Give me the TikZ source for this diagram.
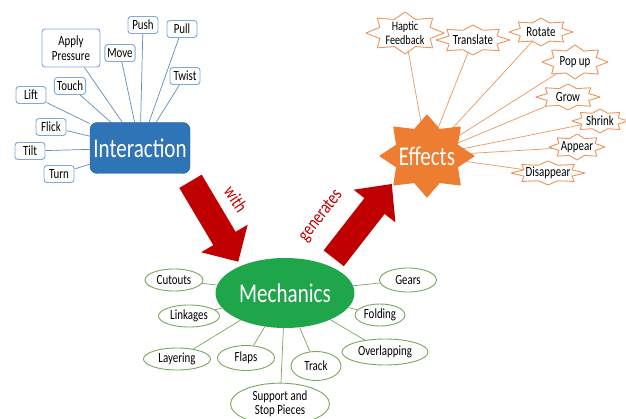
\documentclass[tikz,border=0pt]{standalone}
\usepackage{fontspec}
\setmainfont{Carlito}[FakeStretch=0.78]
\usetikzlibrary{shapes.geometric,calc}

\definecolor{interblue}{HTML}{2E74B6}
\definecolor{interedge}{HTML}{255F98}
\definecolor{interline}{HTML}{5F8CBC}
\definecolor{leafblue}{HTML}{7FA9D6}
\definecolor{efforange}{HTML}{ED7D31}
\definecolor{effline}{HTML}{E9965E}
\definecolor{mechgreen}{HTML}{1FA64A}
\definecolor{mechline}{HTML}{7BA65C}
\definecolor{arrowred}{HTML}{C00000}

\pgfdeclarelayer{back}
\pgfdeclarelayer{mid}
\pgfsetlayers{back,mid,main}

\newcommand{\leaffont}{\fontsize{14}{14.5}\selectfont}
\newcommand{\hubfont}{\fontsize{27}{29}\selectfont}

\tikzset{
  hub/.style={text=white, font=\hubfont},
  actleaf/.style={draw=leafblue, fill=white, line width=0.9pt, rounded corners=3pt,
    minimum width=30pt, minimum height=17pt, inner sep=2.5pt, font=\leaffont, align=center},
  mechleaf/.style={ellipse, draw=mechline, fill=white, line width=0.9pt,
    minimum height=22pt, inner sep=1.5pt, font=\leaffont, align=center},
  effleaf/.style={inner sep=1pt, font=\leaffont, align=center},
  effstarline/.style={draw=effline, fill=white, line width=0.9pt, line join=round},
  effhubstar/.style={fill=efforange, draw=efforange, line width=1pt, line join=round},
  actlink/.style={draw=interline, line width=0.7pt},
  efflink/.style={draw=effline, line width=0.7pt},
  mechlink/.style={draw=mechline, line width=0.7pt},
  bigarrow/.style={fill=arrowred, draw=none},
  arrowtext/.style={text=arrowred, font=\fontsize{19}{20}\selectfont}
}

% eight point star round a node: style, node, x radius, y radius
\newcommand{\effstar}[4][effstarline]{%
  \pgfmathsetmacro{\starrx}{0.7*#3}%
  \pgfmathsetmacro{\starry}{0.7*#4}%
  \draw[#1] ($(#2)+(#3,0)$)
    \foreach \ang in {0,45,...,315}{
      -- ($(#2)+({#3*cos(\ang)},{#4*sin(\ang)})$)
      -- ($(#2)+({\starrx*cos(\ang+22.5)},{\starry*sin(\ang+22.5)})$)} -- cycle;
}

\begin{document}
\begin{tikzpicture}[x=1pt,y=-1pt]
    \useasboundingbox (0,0) rectangle (626,419);

    % Interaction and what you do
    \node[hub, fill=interblue, draw=interedge, rounded corners=7pt,
      minimum width=100pt, minimum height=51pt] (interaction) at (140,148) {Interaction};

    \node[actleaf] (push) at (143,25) {Push};
    \node[actleaf] (pull) at (182,29) {Pull};
    \node[actleaf, minimum width=58pt, minimum height=38pt] (pressure) at (71,48) {Apply\\Pressure};
    \node[actleaf] (move) at (120,53) {Move};
    \node[actleaf] (twist) at (185,76) {Twist};
    \node[actleaf] (touch) at (70,86) {Touch};
    \node[actleaf] (lift) at (31,95) {Lift};
    \node[actleaf] (flick) at (51,127) {Flick};
    \node[actleaf] (tilt) at (30,151) {Tilt};
    \node[actleaf] (turn) at (59,174) {Turn};

    % Effects and what they do
    \node[hub, circle, minimum size=62pt, inner sep=0pt] (effects) at (427,156) {Effects};

    \node[effleaf, font=\fontsize{13}{13.5}\selectfont] (haptic) at (405,33) {Haptic\\Feedback};
    \node[effleaf] (translate) at (473,40) {Translate};
    \node[effleaf] (rotate) at (541,32) {Rotate};
    \node[effleaf] (popup) at (575,62) {Pop up};
    \node[effleaf] (grow) at (568,97) {Grow};
    \node[effleaf] (shrink) at (600,121) {Shrink};
    \node[effleaf] (appear) at (577,147) {Appear};
    \node[effleaf] (disappear) at (548,173) {Disappear};

    % Mechanics and the parts
    \node[hub, ellipse, fill=mechgreen, minimum width=111pt, minimum height=70pt] (mechanics) at (285,293) {Mechanics};

    \node[mechleaf, minimum width=58pt] (cutouts) at (174,280) {Cutouts};
    \node[mechleaf, minimum width=61pt] (linkages) at (189,316) {Linkages};
    \node[mechleaf, minimum width=67pt] (layering) at (177,359) {Layering};
    \node[mechleaf, minimum width=57pt, minimum height=25pt] (flaps) at (246,358) {Flaps};
    \node[mechleaf, minimum width=50pt, minimum height=29pt] (track) at (316,366) {Track};
    \node[mechleaf, minimum width=99pt] (support) at (280,404) {Support and\\Stop Pieces};
    \node[mechleaf, minimum width=57pt, minimum height=24pt] (gears) at (408,280) {Gears};
    \node[mechleaf, minimum width=46pt] (folding) at (380,315) {Folding};
    \node[mechleaf, minimum width=86pt, minimum height=26pt] (overlapping) at (385,352) {Overlapping};

    % connectors, behind everything
    \begin{pgfonlayer}{back}
      \foreach \leaf in {push,pull,pressure,move,twist,touch,lift,flick,tilt,turn}
        \draw[actlink] (\leaf) -- (interaction);
      \foreach \leaf in {haptic,translate,rotate,popup,grow,shrink,appear,disappear}
        \draw[efflink] (\leaf) -- (effects);
      \foreach \leaf in {cutouts,linkages,layering,flaps,track,support,gears,folding,overlapping}
        \draw[mechlink] (\leaf) -- (mechanics);
    \end{pgfonlayer}

    % star outlines for the effects
    \begin{pgfonlayer}{mid}
      \effstar[effhubstar]{effects}{47}{41}
      \effstar{haptic}{39}{21}
      \effstar{translate}{37}{15}
      \effstar{rotate}{32}{14}
      \effstar{popup}{33}{17}
      \effstar{grow}{32}{13}
      \effstar{shrink}{28}{12}
      \effstar{appear}{28}{13}
      \effstar{disappear}{37}{12}
    \end{pgfonlayer}

    % big red arrows
    \begin{scope}[shift={(190.5,181.3)}, rotate=-59.3]
      \fill[bigarrow] (0,-13) -- (66.5,-13) -- (66.5,-27) -- (93.5,0) -- (66.5,27) -- (66.5,13) -- (0,13) -- cycle;
    \end{scope}
    \begin{scope}[shift={(333.7,258.3)}, rotate=52]
      \fill[bigarrow] (0,-12.8) -- (66.3,-12.8) -- (66.3,-26.5) -- (94.3,0) -- (66.3,26.5) -- (66.3,12.8) -- (0,12.8) -- cycle;
    \end{scope}

    \node[arrowtext, rotate=-56] (withlabel) at (236,199) {with};
    \node[arrowtext, rotate=52] (genlabel) at (321,216) {generates};
\end{tikzpicture}
\end{document}
